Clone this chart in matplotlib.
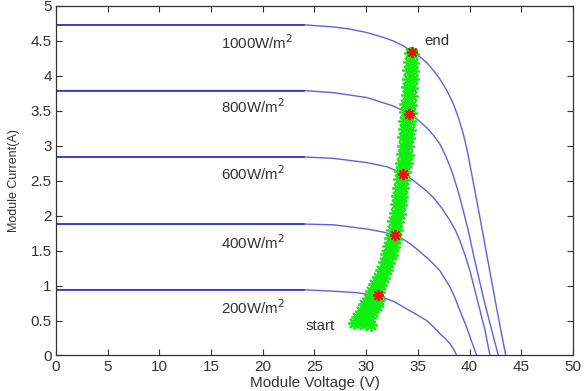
import matplotlib
matplotlib.use("Agg")
import matplotlib.pyplot as plt

plt.rcParams['font.family'] = ['Liberation Sans', 'DejaVu Sans']

# I-V curves (voltage V, current A)
v_1000 = [0, 24, 26.8, 28.4, 30.05, 31.65, 32.6, 33.6, 34.46, 35.2, 35.85, 36.5, 37.14, 37.8,
          38.42, 38.9, 39.39, 39.8, 40.2, 40.84, 41.65, 42.46, 43.1, 43.5]
i_1000 = [4.73, 4.73, 4.70, 4.67, 4.62, 4.55, 4.50, 4.43, 4.34, 4.27, 4.19, 4.08, 3.95, 3.79,
          3.60, 3.41, 3.17, 2.91, 2.60, 2.10, 1.45, 0.80, 0.30, 0.0]
v_800 = [0, 24, 26.8, 30.05, 32.6, 34.14, 35.0, 35.85, 36.5, 37.14, 37.7, 38.27, 38.85, 39.39,
         39.9, 40.36, 41.33, 42.14, 42.78]
i_800 = [3.79, 3.79, 3.76, 3.69, 3.57, 3.46, 3.37, 3.26, 3.15, 3.02, 2.85, 2.64, 2.37, 2.07,
         1.77, 1.45, 0.83, 0.36, 0.0]
v_600 = [0, 24, 26.8, 30.05, 32.0, 33.6, 34.4, 35.2, 35.85, 36.5, 37.3, 38.1, 38.6, 39.07,
         39.55, 40.04, 40.69, 41.49, 41.97]
i_600 = [2.84, 2.84, 2.82, 2.76, 2.70, 2.60, 2.52, 2.43, 2.35, 2.26, 2.11, 1.93, 1.80, 1.64,
         1.44, 1.21, 0.83, 0.36, 0.0]
v_400 = [0, 24, 26.8, 30.05, 31.5, 32.79, 33.5, 34.24, 35.0, 35.85, 36.5, 37.14, 37.6, 38.1,
         38.6, 39.07, 39.72, 40.2, 40.69]
i_400 = [1.88, 1.88, 1.87, 1.81, 1.77, 1.72, 1.67, 1.60, 1.51, 1.40, 1.31, 1.21, 1.10, 0.98,
         0.82, 0.64, 0.40, 0.20, 0.0]
v_200 = [0, 24, 26.8, 29.0, 31.07, 32.7, 34.24, 35.05, 35.85, 36.5, 37.14, 37.6, 38.1, 38.45, 38.75]
i_200 = [0.94, 0.94, 0.92, 0.90, 0.86, 0.77, 0.64, 0.57, 0.50, 0.41, 0.31, 0.25, 0.17, 0.09, 0.0]

curve_labels = ['1000W/m$^2$', '800W/m$^2$', '600W/m$^2$', '400W/m$^2$', '200W/m$^2$']
label_v = [16.0, 16.0, 16.0, 16.0, 16.0]
label_i = [4.48, 3.56, 2.60, 1.62, 0.69]

# maximum power points
mpp_v = [34.46, 34.14, 33.6, 32.8, 31.1]
mpp_i = [4.34, 3.46, 2.60, 1.73, 0.86]

# MPPT trajectory samples
mppt_v = [28.8, 29.4, 30.0, 30.5, 29.1, 29.8, 30.4, 29.5, 30.1, 30.7, 29.8, 30.4, 31.0,
          30.2, 30.8, 31.2, 30.5, 31.2, 30.8, 31.4, 31.1, 31.7, 31.4, 32.0, 31.7, 32.2,
          31.9, 32.5, 32.1, 32.7, 32.3, 32.9, 32.5, 33.0, 32.6, 33.1, 32.8, 33.3, 32.9,
          33.4, 33.0, 33.5, 33.1, 33.6, 33.2, 33.7, 33.3, 33.8, 33.4, 33.9, 33.5, 34.0,
          33.6, 34.0, 33.6, 34.1, 33.7, 34.2, 33.7, 34.2, 33.8, 34.3, 33.8, 34.3, 33.9,
          34.4, 33.9, 34.4, 34.0, 34.5, 34.0, 34.5, 34.1, 34.5, 34.2, 34.5]
mppt_i = [0.47, 0.46, 0.45, 0.44, 0.55, 0.54, 0.53, 0.64, 0.63, 0.62, 0.73, 0.72, 0.71,
          0.82, 0.81, 0.80, 0.92, 0.91, 1.02, 1.01, 1.12, 1.11, 1.23, 1.22, 1.34, 1.33,
          1.45, 1.44, 1.56, 1.55, 1.68, 1.67, 1.80, 1.79, 1.92, 1.91, 2.04, 2.03, 2.16,
          2.15, 2.28, 2.27, 2.40, 2.39, 2.52, 2.51, 2.64, 2.63, 2.76, 2.75, 2.88, 2.87,
          3.00, 2.99, 3.12, 3.11, 3.24, 3.23, 3.36, 3.35, 3.48, 3.47, 3.60, 3.59, 3.72,
          3.71, 3.84, 3.83, 3.96, 3.95, 4.08, 4.07, 4.20, 4.19, 4.32, 4.31]

x_ticks = [0, 5, 10, 15, 20, 25, 30, 35, 40, 45, 50]
y_ticks = [0, 0.5, 1, 1.5, 2, 2.5, 3, 3.5, 4, 4.5, 5]
y_tick_labels = ['0', '0.5', '1', '1.5', '2', '2.5', '3', '3.5', '4', '4.5', '5']

fig = plt.figure(figsize=(5.85, 3.91), dpi=100)
ax = fig.add_axes([0.0957, 0.0908, 0.8838, 0.894])

curves = [(v_1000, i_1000), (v_800, i_800), (v_600, i_600), (v_400, i_400), (v_200, i_200)]
for v, i in curves:
    ax.plot(v, i, color='#6060e0', lw=1.0, zorder=2, solid_joinstyle='round')
    ax.plot(v[:2], i[:2], color='#2a2ac8', lw=1.1, zorder=2)

ax.plot(mppt_v, mppt_i, linestyle='none', marker=(8, 2, 0), markersize=9,
        markeredgewidth=1.3, color='#0fef0f', zorder=3)
ax.plot(mpp_v, mpp_i, linestyle='none', marker=(8, 2, 0), markersize=8,
        markeredgewidth=1.3, color='#ee1111', zorder=4)

txt_color = '#333333'
for lab, lv, li in zip(curve_labels, label_v, label_i):
    ax.text(lv, li, lab, fontsize=10.8, color=txt_color, ha='left', va='center')
ax.text(24.1, 0.42, 'start', fontsize=10.8, color=txt_color, ha='left', va='center')
ax.text(35.6, 4.5, 'end', fontsize=10.8, color=txt_color, ha='left', va='center')

ax.set_xlim(0, 50)
ax.set_ylim(0, 5)
ax.set_xticks(x_ticks)
ax.set_yticks(y_ticks)
ax.set_yticklabels(y_tick_labels)
ax.tick_params(direction='in', top=True, right=True, length=4, width=0.8,
               labelsize=11, labelcolor=txt_color, color='#333333', pad=3)
for s in ax.spines.values():
    s.set_color('#333333')
    s.set_linewidth(0.9)
ax.set_xlabel('Module Voltage (V)', fontsize=11, color=txt_color, labelpad=2)
ax.set_ylabel('Module Current(A)', fontsize=9, color=txt_color, labelpad=8)

fig.savefig('out.png', dpi=100)
